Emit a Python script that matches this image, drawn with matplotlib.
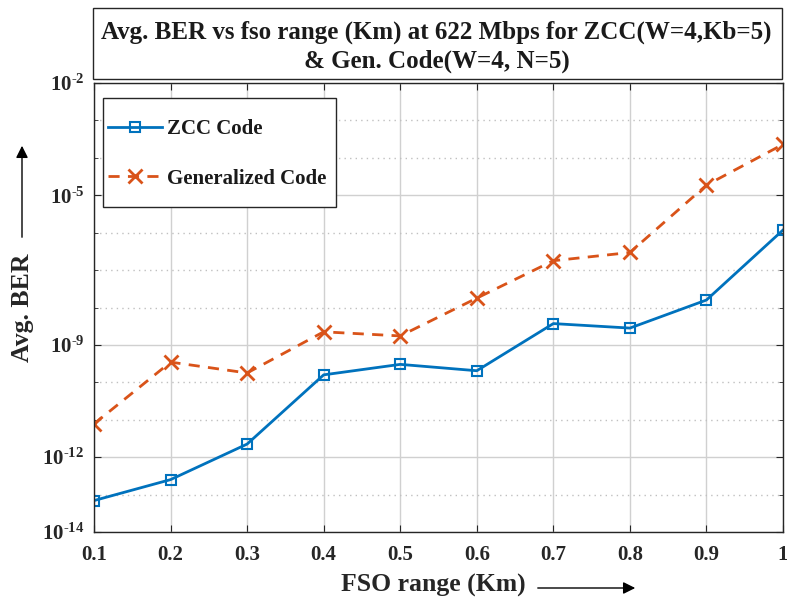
import matplotlib
matplotlib.use("Agg")
import matplotlib.pyplot as plt
from matplotlib.ticker import FixedLocator, NullFormatter
from matplotlib.patches import Rectangle, FancyArrowPatch

plt.rcParams['font.family'] = ['Liberation Serif', 'DejaVu Serif']
plt.rcParams['font.weight'] = 'bold'
plt.rcParams['mathtext.fontset'] = 'custom'
plt.rcParams['mathtext.rm'] = 'Liberation Serif:bold'
plt.rcParams['mathtext.bf'] = 'Liberation Serif:bold'
plt.rcParams['mathtext.it'] = 'Liberation Serif:bold'

# Data
fso_range = [0.1, 0.2, 0.3, 0.4, 0.5, 0.6, 0.7, 0.8, 0.9, 1.0]
zcc_exp = [-13.16, -12.60, -11.65, -9.80, -9.52, -9.69, -8.43, -8.55, -7.80, -5.93]
gen_exp = [-11.11, -9.46, -9.75, -8.65, -8.76, -7.75, -6.75, -6.53, -4.73, -3.64]
zcc_ber = [10 ** e for e in zcc_exp]
gen_ber = [10 ** e for e in gen_exp]

y_major = [-14, -12, -9, -5, -2]
y_minor = [e for e in range(-14, -1) if e not in y_major]
x_ticks = fso_range
x_labels = ['0.1', '0.2', '0.3', '0.4', '0.5', '0.6', '0.7', '0.8', '0.9', '1']
series_labels = ['ZCC Code', 'Generalized Code']

title_text = "Avg. BER vs fso range (Km) at 622 Mbps for ZCC(W=4,Kb=5)\n& Gen. Code(W=4, N=5)"

W, H = 787, 605
fig = plt.figure(figsize=(W / 100, H / 100), dpi=100)
ax_l, ax_r, ax_t, ax_b = 94, 783, 83, 532
ax = fig.add_axes([ax_l / W, 1 - ax_b / H, (ax_r - ax_l) / W, (ax_b - ax_t) / H])

blue = '#0072BD'
orange = '#D95319'

ax.plot(fso_range, zcc_ber, '-', color=blue, lw=2, marker='s', ms=7,
        mfc='none', mec=blue, mew=1.5, label=series_labels[0])
ax.plot(fso_range, gen_ber, '--', color=orange, lw=2, marker='x', ms=10,
        mew=2, dashes=(4, 3), label=series_labels[1])

ax.set_yscale('log')
ax.set_xlim(0.1, 1.0)
ax.set_ylim(1e-14, 1e-2)

ax.yaxis.set_major_locator(FixedLocator([10.0 ** e for e in y_major]))
ax.yaxis.set_minor_locator(FixedLocator([10.0 ** e for e in y_minor]))
ax.yaxis.set_minor_formatter(NullFormatter())
ax.set_yticklabels([r'$10^{\text{-}%d}$' % (-e) for e in y_major])
ax.set_xticks(x_ticks)
ax.set_xticklabels(x_labels)

ax.tick_params(axis='both', which='both', direction='in', top=True, right=True,
               color='#262626', labelsize=15)
ax.tick_params(axis='x', which='major', length=5, pad=9)
ax.tick_params(axis='y', which='major', length=5, pad=7)
ax.tick_params(axis='y', which='minor', length=3)
for lab in ax.get_xticklabels() + ax.get_yticklabels():
    lab.set_fontweight('bold')
    lab.set_color('#262626')

ax.grid(True, which='major', color='#d0d0d0', lw=1, ls='-')
ax.grid(True, which='minor', axis='y', color='#c0c0c0', lw=1, ls=(0, (1, 3)))
ax.set_axisbelow(True)
for s in ax.spines.values():
    s.set_color('#262626')
    s.set_linewidth(1)

# Legend: frame drawn separately to get the reference's padding
lg_l, lg_r, lg_t, lg_b = 103, 336, 98, 207
def fx(px):
    return (px - ax_l) / (ax_r - ax_l)
def fy(py):
    return (ax_b - py) / (ax_b - ax_t)
ax.add_patch(Rectangle((fx(lg_l), fy(lg_b)), fx(lg_r) - fx(lg_l), fy(lg_t) - fy(lg_b),
                       transform=ax.transAxes, facecolor='white', edgecolor='#262626',
                       lw=1, zorder=4))
leg = ax.legend(loc='center left', bbox_to_anchor=(fx(lg_l + 5), fy(154)), fontsize=15,
                frameon=False, handlelength=2.6, handletextpad=0.25, labelspacing=1.4,
                borderpad=0, borderaxespad=0)
leg.set_zorder(5)
for t in leg.get_texts():
    t.set_fontweight('bold')
    t.set_color('#1a1a1a')

# Title box
fig.patches.append(Rectangle((93 / W, 1 - 79 / H), 689 / W, 71 / H, transform=fig.transFigure,
                             fill=True, facecolor='white', edgecolor='#262626', lw=1))
fig.text(436.5 / W, 1 - 46.5 / H, title_text, ha='center', va='center', fontsize=18,
         fontweight='bold', color='#1a1a1a', linespacing=1.3)

# Axis labels with arrows
fig.text(22 / W, 1 - 308 / H, 'Avg. BER', rotation=90, ha='center', va='center',
         fontsize=18.5, fontweight='bold', color='#262626')
fig.patches.append(FancyArrowPatch((22 / W, 1 - 240 / H), (22 / W, 1 - 143 / H),
                                   transform=fig.transFigure, arrowstyle='-|>',
                                   mutation_scale=18, color='black', lw=1))
fig.text(433.5 / W, 1 - 585 / H, 'FSO range (Km)', ha='center', va='center',
         fontsize=18.5, fontweight='bold', color='#262626')
fig.patches.append(FancyArrowPatch((535 / W, 1 - 588 / H), (638 / W, 1 - 588 / H),
                                   transform=fig.transFigure, arrowstyle='-|>',
                                   mutation_scale=18, color='black', lw=1))

fig.savefig('out.png', dpi=100)
